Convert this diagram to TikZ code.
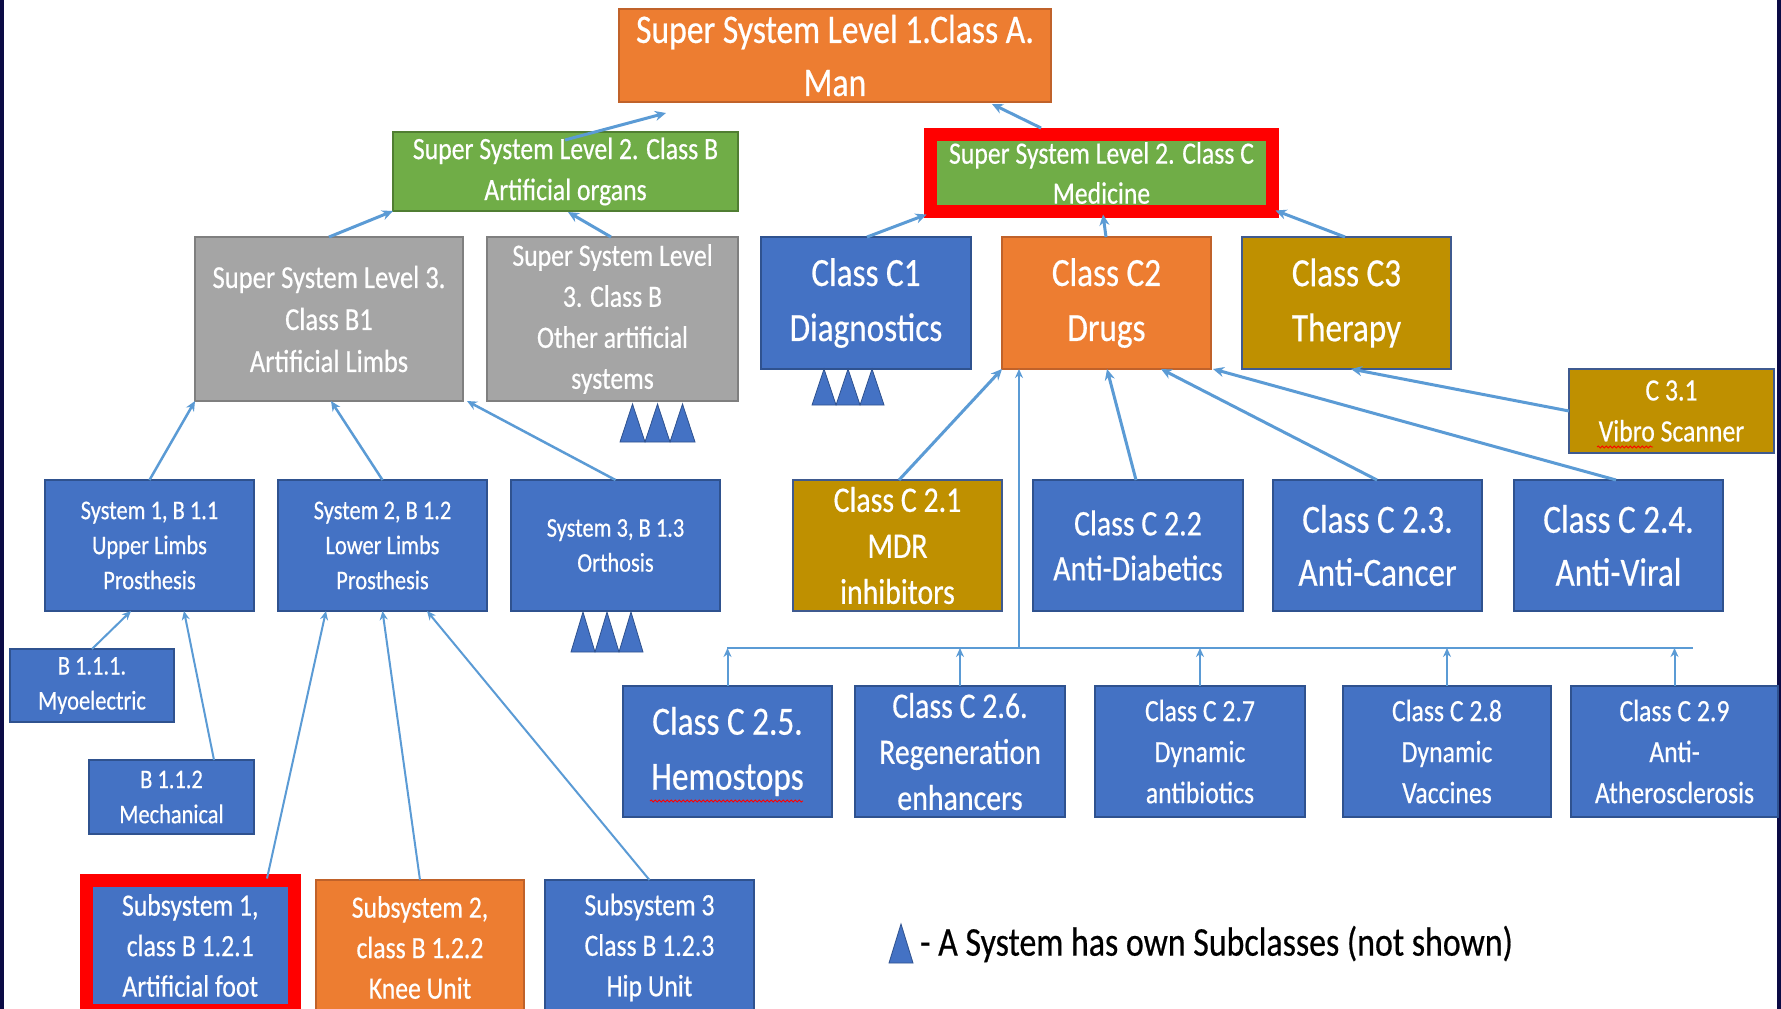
\documentclass[tikz,border=0pt]{standalone}
\usepackage{fontspec}
\setmainfont{Carlito}[FakeStretch=0.83,FakeBold=0.5]
\usetikzlibrary{arrows.meta,calc,decorations.pathmorphing}
\definecolor{cblue}{HTML}{4472C4}
\definecolor{cblueb}{HTML}{2F528F}
\definecolor{corange}{HTML}{ED7D31}
\definecolor{corangeb}{HTML}{C0622A}
\definecolor{cgreen}{HTML}{70AD47}
\definecolor{cgreenb}{HTML}{507E32}
\definecolor{cgray}{HTML}{A5A5A5}
\definecolor{cgrayb}{HTML}{7F7F7F}
\definecolor{cgold}{HTML}{BF9000}
\definecolor{cgoldb}{HTML}{3F5A8F}
\definecolor{carrow}{HTML}{5B9BD5}
\definecolor{cnavy}{HTML}{0B0B45}
\definecolor{cred}{HTML}{FF0000}
\tikzset{
  box/.style={rectangle, anchor=north west, inner sep=0pt, outer sep=0pt, align=center, text=white, line width=1.3pt},
  bluebox/.style={box, fill=cblue, draw=cblueb},
  orangebox/.style={box, fill=corange, draw=corangeb},
  greenbox/.style={box, fill=cgreen, draw=cgreenb},
  graybox/.style={box, fill=cgray, draw=cgrayb},
  goldbox/.style={box, fill=cgold, draw=cgoldb},
  redframe/.style={draw=cred, line width=13pt},
  fA/.style={font=\fontsize{40}{52}\selectfont},
  fB/.style={font=\fontsize{36}{46}\selectfont},
  fC/.style={font=\fontsize{31}{40.5}\selectfont},
  fD/.style={font=\fontsize{27}{35}\selectfont},
  arr/.style={draw=carrow, line width=3pt, -{Stealth[length=11pt,width=10pt]}},
  arrmid/.style={draw=carrow, line width=2.5pt, -{Stealth[length=10pt,width=9pt]}},
  arrthin/.style={draw=carrow, line width=2pt, -{Stealth[length=9pt,width=8pt]}},
  busline/.style={draw=carrow, line width=2.2pt},
  tri/.style={fill=cblue, draw=cblueb, line width=0.8pt},
  squiggle/.style={draw=cred, line width=0.8pt, decorate, decoration={snake, amplitude=1.1pt, segment length=4pt}}
}
\begin{document}
\begin{tikzpicture}[x=1pt,y=-1pt]
\useasboundingbox (0,0) rectangle (1781,1009);
\clip (0,0) rectangle (1781,1009);
\fill[white] (0,0) rectangle (1781,1009);
\fill[cnavy] (0,0) rectangle (4,1009);
\fill[cnavy] (1777,0) rectangle (1781,1009);

% level 1
\node[orangebox, font=\fontsize{40.5}{53}\selectfont, minimum width=432, minimum height=93] (top) at (619,9) {Super System Level 1.Class A.\\ Man};

% level 2
\node[greenbox, font=\fontsize{31}{41}\selectfont, minimum width=345, minimum height=79] (gB) at (393,132) {Super System Level 2. Class B\\Artificial organs};
\node[greenbox, redframe, font=\fontsize{31}{40}\selectfont, minimum width=342, minimum height=77] (gC) at (930.5,134.5) {Super System Level 2. Class C\\Medicine};

% level 3
\node[graybox, font=\fontsize{32}{42}\selectfont, minimum width=268, minimum height=164] (gray1) at (195,237) {Super System Level 3.\\Class B1\\Artificial Limbs};
\node[graybox, font=\fontsize{31}{41}\selectfont, minimum width=251, minimum height=164] (gray2) at (487,237) {Super System Level\\3. Class B\\Other artificial\\systems};
\node[bluebox, font=\fontsize{40}{55}\selectfont, minimum width=210, minimum height=132] (c1) at (761,237) {Class C1\\Diagnostics};
\node[orangebox, font=\fontsize{40}{55}\selectfont, minimum width=209, minimum height=132] (c2) at (1002,237) {Class C2\\Drugs};
\node[goldbox, font=\fontsize{40}{55}\selectfont, minimum width=209, minimum height=132] (c3) at (1242,237) {Class C3\\Therapy};
\node[goldbox, font=\fontsize{31}{41}\selectfont, minimum width=205, minimum height=84] (c31) at (1569,369) {C 3.1\\Vibro Scanner};

% level 4
\node[bluebox, fD, minimum width=209, minimum height=131] (s1) at (45,480) {System 1, B 1.1\\Upper Limbs\\Prosthesis};
\node[bluebox, fD, minimum width=209, minimum height=131] (s2) at (278,480) {System 2, B 1.2\\Lower Limbs\\Prosthesis};
\node[bluebox, fD, minimum width=209, minimum height=131] (s3) at (511,480) {System 3, B 1.3\\Orthosis};
\node[goldbox, fB, minimum width=209, minimum height=131] (c21) at (793,480) {Class C 2.1\\MDR\\inhibitors};
\node[bluebox, font=\fontsize{36}{45}\selectfont, minimum width=210, minimum height=131] (c22) at (1033,480) {Class C 2.2\\Anti-Diabetics};
\node[bluebox, font=\fontsize{40}{53}\selectfont, minimum width=209, minimum height=131] (c23) at (1273,480) {Class C 2.3.\\Anti-Cancer};
\node[bluebox, font=\fontsize{40}{53}\selectfont, minimum width=209, minimum height=131] (c24) at (1514,480) {Class C 2.4.\\Anti-Viral};

% level 5
\node[bluebox, fD, minimum width=164, minimum height=73] (b111) at (10,649) {B 1.1.1.\\Myoelectric};
\node[bluebox, fD, minimum width=165, minimum height=74] (b112) at (89,760) {B 1.1.2\\Mechanical};
\node[bluebox, font=\fontsize{40}{55}\selectfont, minimum width=209, minimum height=131] (c25) at (623,686) {Class C 2.5.\\Hemostops};
\node[bluebox, fB, minimum width=210, minimum height=131] (c26) at (855,686) {Class C 2.6.\\Regeneration\\enhancers};
\node[bluebox, font=\fontsize{31}{41}\selectfont, minimum width=210, minimum height=131] (c27) at (1095,686) {Class C 2.7\\Dynamic\\antibiotics};
\node[bluebox, font=\fontsize{31}{41}\selectfont, minimum width=208, minimum height=131] (c28) at (1343,686) {Class C 2.8\\Dynamic\\Vaccines};
\node[bluebox, font=\fontsize{31}{41}\selectfont, minimum width=207, minimum height=131] (c29) at (1571,686) {Class C 2.9\\Anti-\\Atherosclerosis};

% level 6
\node[bluebox, redframe, fC, minimum width=208.5, minimum height=130] (sub1) at (86,880.5) {Subsystem 1,\\class B 1.2.1\\Artificial foot};
\node[orangebox, fC, minimum width=208, minimum height=135] (sub2) at (316,880) {Subsystem 2,\\class B 1.2.2\\Knee Unit};
\node[bluebox, fC, minimum width=209, minimum height=135] (sub3) at (545,880) {Subsystem 3\\Class B 1.2.3\\Hip Unit};

% connectors
\draw[arr] ($(gB.north west)+(172,8)$) -- ($(top.south west)+(47,11)$);
\draw[arr] ($(gC.north west)+(110.5,-6.5)$) -- ($(top.south west)+(373,2)$);
\draw[arr] ($(gray1.north west)+(134,0)$) -- (gB.south west);
\draw[arr] ($(gray2.north west)+(124,0)$) -- ($(gB.south west)+(175,1)$);
\draw[arr] ($(c1.north west)+(106,0)$) -- ($(gC.south west)+(-4,3)$);
\draw[arr] ($(c2.north west)+(104,0)$) -- ($(gC.south west)+(172.5,3)$);
\draw[arr] ($(c3.north west)+(103,0)$) -- ($(gC.south east)+(3,-1)$);
\draw[arr] (c31.west) -- ($(c3.south west)+(109,0)$);
\draw[arr] ($(c24.north west)+(102,0)$) -- ($(c2.south east)+(2,0)$);
\draw[arr] ($(c23.north west)+(104,0)$) -- ($(c2.south west)+(159,0)$);
\draw[arr] ($(c22.north west)+(103,0)$) -- ($(c2.south west)+(105,0)$);
\draw[arr] ($(c21.north west)+(106,0)$) -- (c2.south west);

\coordinate (busL) at (727,648);
\coordinate (busR) at (1693,648);
\draw[busline] (busL) -- (busR);
\draw[arrthin] ($(c2.south west)+(17,279)$) -- ($(c2.south west)+(17,0)$);
\foreach \n in {c25,c26,c27,c28,c29}
  \draw[arrthin] (\n.north) -- (\n.north |- busL);

\draw[arrmid] (s1.north) -- (gray1.south west);
\draw[arrmid] (s2.north) -- ($(gray1.south)+(2,0)$);
\draw[arrmid] (s3.north) -- ($(gray1.south east)+(4,0)$);
\draw[arrthin] (b111.north) -- ($(s1.south west)+(86,0)$);
\draw[arrthin] ($(b112.north west)+(125,0)$) -- ($(s1.south west)+(139,0)$);
\draw[arrthin] ($(sub1.north west)+(181,-2)$) -- ($(s2.south west)+(48,0)$);
\draw[arrthin] (sub2.north) -- (s2.south);
\draw[arrthin] (sub3.north) -- ($(s2.south west)+(149,0)$);

% subclass markers
\foreach \x in {812,836,860}
  \path[tri] (\x,405) -- (\x+12,369) -- (\x+24,405) -- cycle;
\foreach \x in {620,645,670}
  \path[tri] (\x,442) -- (\x+12.5,404) -- (\x+25,442) -- cycle;
\foreach \x in {571,595,619}
  \path[tri] (\x,652) -- (\x+12,612) -- (\x+24,652) -- cycle;

% spell-check marks
\draw[squiggle] (1597,447) -- (1653,447);
\draw[squiggle] (650,801) -- (803,801);

% legend
\path[tri] (889,963) -- (901,924) -- (913,963) -- cycle;
\node[anchor=west, inner sep=0pt, font=\fontsize{40.8}{48}\selectfont, text=black] (legend) at (920,944) {- A System has own Subclasses (not shown)};
\end{tikzpicture}
\end{document}
